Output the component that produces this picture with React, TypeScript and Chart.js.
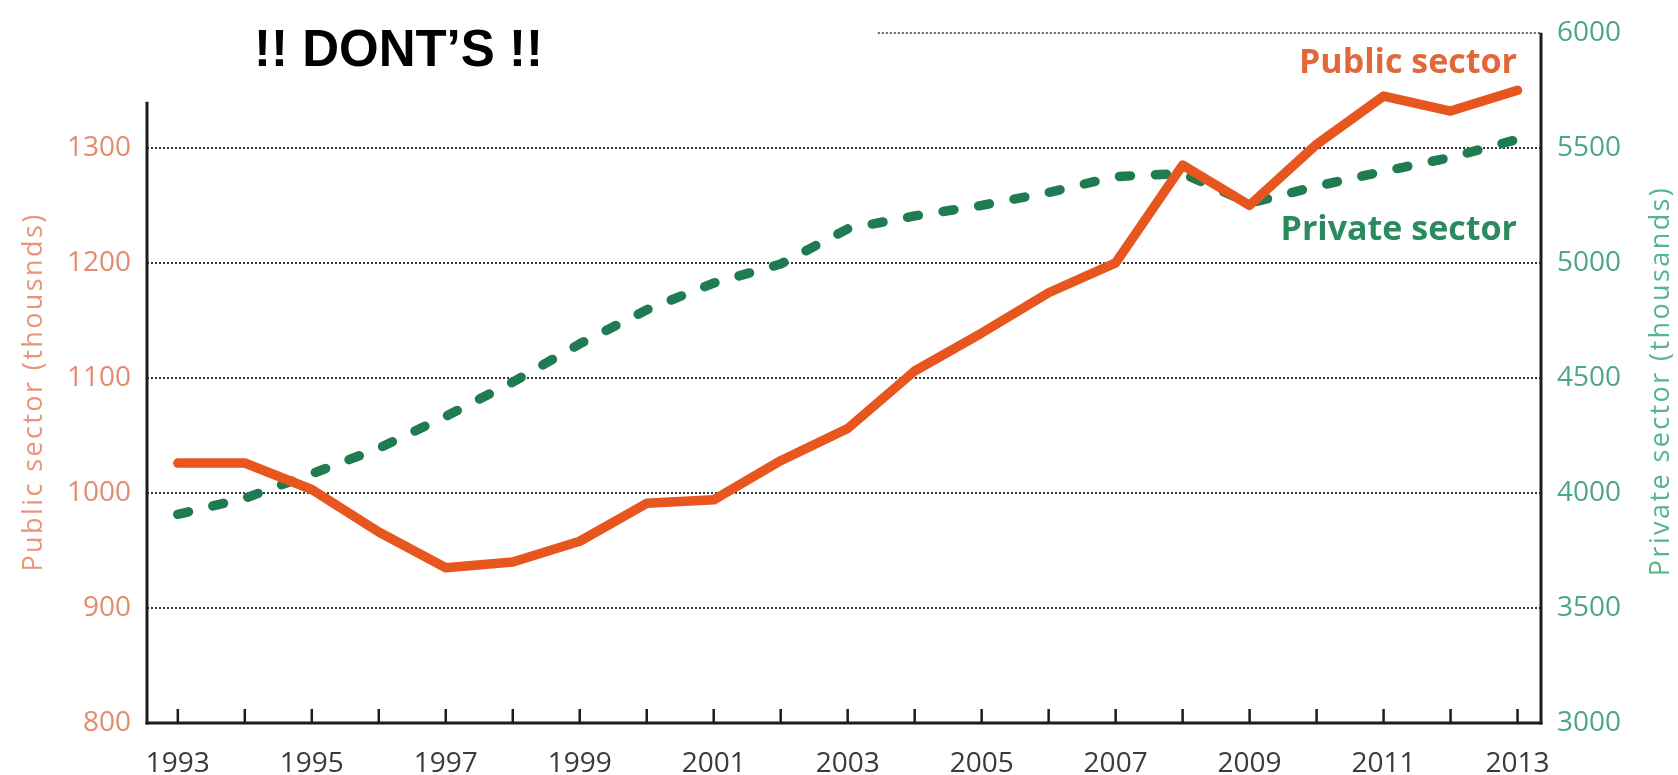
import React, { useEffect, useRef } from 'react';
import { Chart, registerables } from 'chart.js';

Chart.register(...registerables);

const years = [1993, 1994, 1995, 1996, 1997, 1998, 1999, 2000, 2001, 2002, 2003, 2004, 2005, 2006, 2007, 2008, 2009, 2010, 2011, 2012, 2013];
const publicSector = [1026, 1026, 1003, 966, 935, 940, 958, 991, 994, 1028, 1056, 1106, 1139, 1174, 1200, 1285, 1250, 1303, 1345, 1332, 1350];
const privateSector = [3907, 3977, 4083, 4194, 4333, 4482, 4648, 4796, 4912, 4995, 5148, 5204, 5250, 5306, 5375, 5389, 5259, 5333, 5398, 5458, 5537];
const xLabelYears = [1993, 1995, 1997, 1999, 2001, 2003, 2005, 2007, 2009, 2011, 2013];
const leftTicks = [800, 900, 1000, 1100, 1200, 1300];
const rightTicks = [3000, 3500, 4000, 4500, 5000, 5500, 6000];
const gridValues = [900, 1000, 1100, 1200, 1300];
const topGridFromYear = 2003.45;
const leftAxisTop = 1340;

const PUBLIC_LINE = '#E8561F';
const PRIVATE_LINE = '#1F7B50';
const PUBLIC_TEXT = '#E2683A';
const PRIVATE_TEXT = '#2B8A5E';
const LEFT_TICK = '#E38B6D';
const RIGHT_TICK = '#4FA683';

const overlay = {
  id: 'overlay',
  beforeDatasetsDraw(chart: any) {
    const { ctx, chartArea, scales } = chart;
    const x = scales.x, y = scales.y, y1 = scales.y1;
    const line = (x1: number, yA: number, x2: number, yB: number) => {
      ctx.beginPath();
      ctx.moveTo(x1, yA);
      ctx.lineTo(x2, yB);
      ctx.stroke();
    };
    ctx.save();
    ctx.strokeStyle = '#333333';
    ctx.lineWidth = 2;
    ctx.setLineDash([2, 2]);
    gridValues.forEach((v) => {
      const py = Math.round(y.getPixelForValue(v));
      line(chartArea.left, py, chartArea.right, py);
    });
    const pyTop = Math.round(y1.getPixelForValue(6000));
    ctx.strokeStyle = '#666666';
    line(x.getPixelForValue(topGridFromYear), pyTop, chartArea.right, pyTop);

    ctx.setLineDash([]);
    ctx.strokeStyle = '#1c1c1c';
    ctx.lineWidth = 3;
    line(chartArea.left, y.getPixelForValue(leftAxisTop), chartArea.left, chartArea.bottom + 1.5);
    line(chartArea.right, chartArea.top, chartArea.right, chartArea.bottom + 1.5);
    line(chartArea.left - 1.5, chartArea.bottom, chartArea.right + 1.5, chartArea.bottom);
    ctx.lineWidth = 2.5;
    years.forEach((yr) => {
      const px = x.getPixelForValue(yr);
      line(px, chartArea.bottom, px, chartArea.bottom - 14);
    });
    ctx.restore();
  },
  afterDraw(chart: any) {
    const { ctx } = chart;
    ctx.save();
    ctx.fillStyle = '#000';
    ctx.font = 'bold 51px "Liberation Sans", Arial, sans-serif';
    ctx.textAlign = 'left';
    ctx.textBaseline = 'alphabetic';
    ctx.fillText('!! DONT\u2019S !!', 254, 66);

    ctx.font = 'bold 34px "Open Sans", sans-serif';
    ctx.textAlign = 'right';
    ctx.fillStyle = PUBLIC_TEXT;
    ctx.fillText('Public sector', 1517, 73);
    ctx.fillStyle = PRIVATE_TEXT;
    ctx.fillText('Private sector', 1517, 240);

    ctx.font = '27px "Open Sans", sans-serif';
    (ctx as any).letterSpacing = '2.4px';
    ctx.textAlign = 'center';
    ctx.textBaseline = 'middle';
    ctx.save();
    ctx.translate(34, 392);
    ctx.rotate(-Math.PI / 2);
    ctx.fillStyle = '#E8957A';
    ctx.fillText('Public sector (thousnds)', 0, 0);
    ctx.restore();
    ctx.save();
    ctx.translate(1661, 381);
    ctx.rotate(-Math.PI / 2);
    ctx.fillStyle = '#55B58B';
    ctx.fillText('Private sector (thousands)', 0, 0);
    ctx.restore();
    ctx.restore();
  },
};

const near = (v: number, list: number[]) => list.some((t) => Math.abs(t - v) < 1e-6);

export default function App() {
  const ref = useRef<HTMLCanvasElement | null>(null);
  useEffect(() => {
    if (!ref.current) return;
    const chart = new Chart(ref.current, {
      type: 'line',
      data: {
        datasets: [
          {
            label: 'Public sector',
            data: years.map((yr, i) => ({ x: yr, y: publicSector[i] })),
            yAxisID: 'y',
            borderColor: PUBLIC_LINE,
            borderWidth: 9.5,
            pointRadius: 0,
            tension: 0,
            borderCapStyle: 'round',
            borderJoinStyle: 'round',
          },
          {
            label: 'Private sector',
            data: years.map((yr, i) => ({ x: yr, y: privateSector[i] })),
            yAxisID: 'y1',
            borderColor: PRIVATE_LINE,
            borderWidth: 9.5,
            borderDash: [11, 25],
            pointRadius: 0,
            tension: 0,
            borderCapStyle: 'round',
            borderJoinStyle: 'round',
          },
        ],
      },
      options: {
        responsive: false,
        animation: false,
        layout: { padding: { top: 26, left: 0, right: 0, bottom: 0 } },
        plugins: { legend: { display: false }, tooltip: { enabled: false }, title: { display: false } },
        scales: {
          x: {
            type: 'linear',
            min: 1992.54,
            max: 2013.35,
            grid: { display: false, drawTicks: false },
            border: { display: false },
            ticks: {
              stepSize: 1,
              autoSkip: false,
              maxRotation: 0,
              includeBounds: false,
              color: '#3a3a3a',
              padding: 24,
              font: { family: '"Open Sans", sans-serif', size: 28 },
              callback: (v: any) => (near(Number(v), xLabelYears) ? String(Math.round(Number(v))) : ''),
            },
            afterFit: (s: any) => { s.height = 52; },
          },
          y: {
            type: 'linear',
            position: 'left',
            min: 800,
            max: 1400,
            grid: { display: false, drawTicks: false },
            border: { display: false },
            ticks: {
              stepSize: 100,
              includeBounds: false,
              color: LEFT_TICK,
              padding: 16,
              font: { family: '"Open Sans", sans-serif', size: 28 },
              callback: (v: any) => (near(Number(v), leftTicks) ? String(v) : ''),
            },
            afterFit: (s: any) => { s.width = 147; },
          },
          y1: {
            type: 'linear',
            position: 'right',
            min: 3000,
            max: 6000,
            grid: { display: false, drawTicks: false },
            border: { display: false },
            ticks: {
              stepSize: 500,
              includeBounds: false,
              color: RIGHT_TICK,
              padding: 16,
              font: { family: '"Open Sans", sans-serif', size: 28 },
              callback: (v: any) => (near(Number(v), rightTicks) ? String(v) : ''),
            },
            afterFit: (s: any) => { s.width = 137; },
          },
        },
      },
      plugins: [overlay],
    } as any);
    return () => chart.destroy();
  }, []);
  return (
    <div style={{ position: 'absolute', left: 0, top: 0, width: 1678, height: 775, background: '#fff' }}>
      <canvas ref={ref} width={1678} height={775} style={{ display: 'block' }} />
    </div>
  );
}
